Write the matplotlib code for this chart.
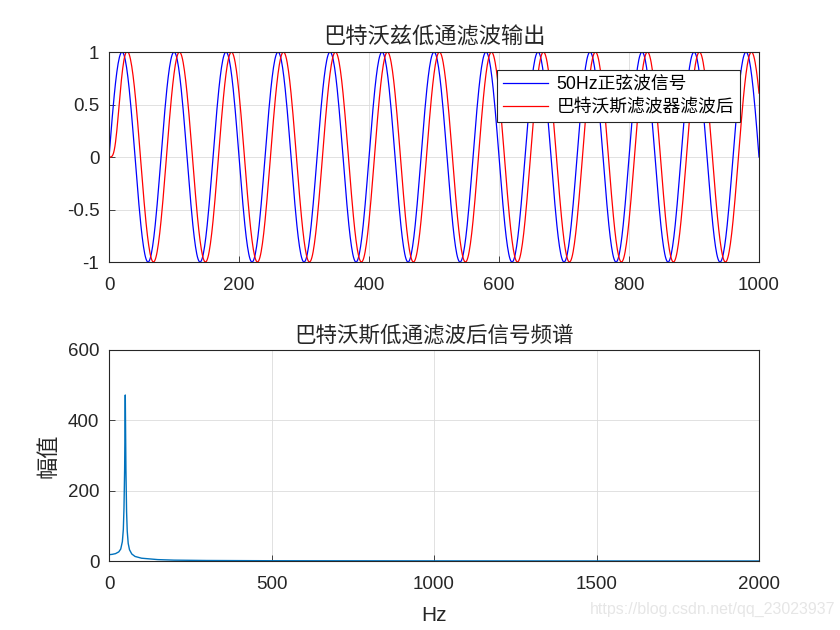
import numpy as np
import matplotlib
matplotlib.use("Agg")
import matplotlib.pyplot as plt

plt.rcParams['font.family'] = ['Liberation Sans', 'Noto Sans CJK SC', 'DejaVu Sans']
plt.rcParams['axes.unicode_minus'] = False

# ---- data ----
sample_rate = 4000          # Hz
signal_freq = 50            # Hz
n_samples = 1001
cutoff_freq = 200           # Hz, Butterworth 4th order (two biquads)
section_q = [0.5412, 1.3066]

top_xticks = [0, 200, 400, 600, 800, 1000]
top_yticks = [-1, -0.5, 0, 0.5, 1]
top_yticklabels = ['-1', '-0.5', '0', '0.5', '1']
bot_xticks = [0, 500, 1000, 1500, 2000]
bot_yticks = [0, 200, 400, 600]

spec_freq = [0, 10, 20, 30, 36, 41, 44, 46, 48, 50, 52, 54, 56, 59, 63, 70, 80, 100,
             150, 200, 300, 500, 1000, 1500, 2000]
spec_mag = [18, 19, 21, 26, 34, 55, 90, 150, 260, 472, 260, 140, 85, 50, 32, 20, 13, 8,
            4, 2.5, 1.5, 0.8, 0.4, 0.2, 0.1]

legend_labels = ['50Hz正弦波信号', '巴特沃斯滤波器滤波后']
title_top = '巴特沃兹低通滤波输出'
title_bot = '巴特沃斯低通滤波后信号频谱'

# ---- signals ----
n = np.arange(n_samples)
x_in = np.sin(2 * np.pi * signal_freq * n / sample_rate)


def biquad_lowpass(x, fc, fs, q):
    w0 = 2 * np.pi * fc / fs
    alpha = np.sin(w0) / (2 * q)
    c = np.cos(w0)
    a0 = 1 + alpha
    b = np.array([(1 - c) / 2, 1 - c, (1 - c) / 2]) / a0
    a = np.array([1.0, -2 * c / a0, (1 - alpha) / a0])
    y = np.zeros_like(x)
    for i in range(len(x)):
        acc = b[0] * x[i]
        if i >= 1:
            acc += b[1] * x[i - 1] - a[1] * y[i - 1]
        if i >= 2:
            acc += b[2] * x[i - 2] - a[2] * y[i - 2]
        y[i] = acc
    return y


y_out = x_in
for q in section_q:
    y_out = biquad_lowpass(y_out, cutoff_freq, sample_rate, q)

fig = plt.figure(figsize=(8.4, 6.3), dpi=100)
ax1 = fig.add_axes([0.1298, 0.5841, 0.7738, 0.3333])
ax2 = fig.add_axes([0.1298, 0.1095, 0.7738, 0.3350])

grid_kw = dict(color='#dcdcdc', linewidth=0.6)
for ax in (ax1, ax2):
    ax.grid(True, **grid_kw)
    ax.set_axisbelow(True)
    ax.tick_params(direction='in', length=4, width=0.6, labelsize=13.5, colors='#262626',
                   top=False, right=False)
    ax.tick_params(axis='x', pad=11)
    ax.tick_params(axis='y', pad=7)
    for s in ax.spines.values():
        s.set_linewidth(0.8)
        s.set_color('#262626')

ax1.plot(n, x_in, color='#0000ff', linewidth=0.9, label=legend_labels[0])
ax1.plot(n, y_out, color='#ff0000', linewidth=0.9, label=legend_labels[1])
ax1.set_xlim(0, 1000)
ax1.set_ylim(-1, 1)
ax1.set_xticks(top_xticks)
ax1.set_yticks(top_yticks)
ax1.set_yticklabels(top_yticklabels)
ax1.set_title(title_top, fontsize=16, family=['Noto Sans CJK SC'], pad=6, color='#262626')
leg = ax1.legend(loc='upper right', bbox_to_anchor=(0.971, 0.914),
                 frameon=True, fancybox=False, edgecolor='#262626', framealpha=1,
                 borderpad=0.35, handlelength=2.5, handletextpad=0.5, labelspacing=0.32,
                 borderaxespad=0.0,
                 prop={'family': ['Liberation Sans', 'Noto Sans CJK SC'], 'size': 12.8})
leg.get_frame().set_linewidth(0.8)

ax2.plot(spec_freq, spec_mag, color='#0072BD', linewidth=1.0)
ax2.set_xlim(0, 2000)
ax2.set_ylim(0, 600)
ax2.set_xticks(bot_xticks)
ax2.set_yticks(bot_yticks)
ax2.set_title(title_bot, fontsize=15.5, family=['Noto Sans CJK SC'], pad=6, color='#262626')
ax2.set_xlabel('Hz', fontsize=15, color='#262626', labelpad=9)
ax2.set_ylabel('幅值', fontsize=16, family=['Noto Sans CJK SC'], color='#262626', labelpad=6)

fig.text(0.995, 0.02, 'https://blog.csdn.net/qq_23023937', ha='right', va='bottom',
         fontsize=11.5, color='#e6e6e6')

fig.savefig('out.png', dpi=100)
